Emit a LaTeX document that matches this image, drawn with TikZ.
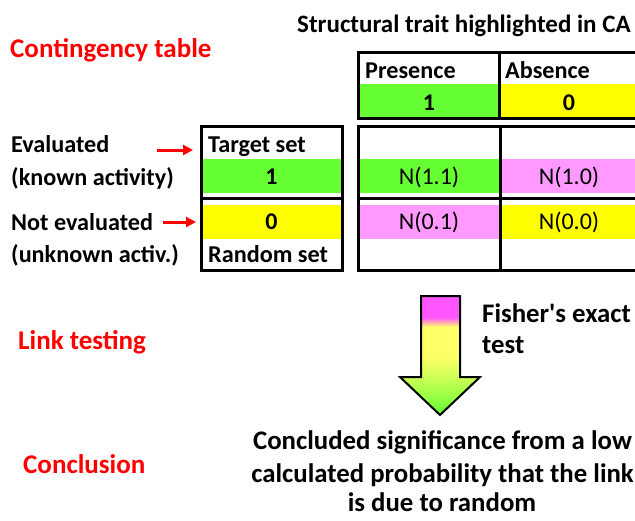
\documentclass[tikz,border=0pt]{standalone}
\usepackage{fontspec}
\setmainfont{Carlito}
\usetikzlibrary{arrows.meta}

\definecolor{cgreen}{RGB}{102,255,51}
\definecolor{cyellow}{RGB}{255,255,0}
\definecolor{cpink}{RGB}{255,153,255}
\definecolor{amag}{RGB}{255,85,255}
\definecolor{ayellow}{RGB}{255,255,102}
\definecolor{alime}{RGB}{205,255,85}
\definecolor{agreen}{RGB}{102,255,51}

% fill of the downward arrow: magenta on top, yellow body, green tip
\pgfdeclareverticalshading{fisherfade}{100bp}{%
  color(0bp)=(agreen); color(25bp)=(agreen); color(41bp)=(alime);
  color(50bp)=(ayellow); color(62bp)=(ayellow); color(66bp)=(amag);
  color(75bp)=(amag); color(100bp)=(amag)}

\begin{document}
\begin{tikzpicture}[x=1pt,y=-1pt,
  txt/.style={inner sep=0pt, anchor=base west, font=\bfseries\fontsize{24.2}{28}\selectfont},
  ctr/.style={inner sep=0pt, anchor=base, font=\bfseries\fontsize{24}{28}\selectfont},
  num/.style={inner sep=0pt, anchor=base, font=\fontsize{24}{28}\selectfont},
  big/.style={inner sep=0pt, font=\bfseries\fontsize{26.8}{30}\selectfont},
  headline/.style={inner sep=0pt, anchor=base west, text=red, font=\bfseries\fontsize{27}{30}\selectfont},
  frame/.style={draw=black, line width=3pt},
  pointer/.style={draw=red, line width=3pt, -{Triangle[length=10pt,width=10pt]}}]
\useasboundingbox (0,0) rectangle (635,520);

% section headings
\node[headline] (hct)  at (10,57)  {Contingency table};
\node[headline] (hlt)  at (18,349) {Link testing};
\node[headline] (hcon) at (23,473) {Conclusion};

% column header
\node[txt, font=\bfseries\fontsize{25}{28}\selectfont] (trait) at (297,32) {Structural trait highlighted in CA};
\fill[cgreen]  (358,84) rectangle (499,118);
\fill[cyellow] (499,84) rectangle (645,118);
\draw[frame] (358,52) rectangle (645,118);
\draw[frame] (499,52) -- (499,118);
\node[txt] (pres) at (365,78) {Presence};
\node[txt] (abs)  at (505,78) {Absence};
\node[ctr] (c1) at (429,110) {1};
\node[ctr] (c0) at (569,110) {0};

% row header
\fill[cgreen]  (201,159) rectangle (342,193);
\fill[cyellow] (201,205) rectangle (342,239);
\draw[frame] (201,126) rectangle (342,270);
\draw[frame] (201,198) -- (342,198);
\node[txt] (tset) at (208,152) {Target set};
\node[ctr] (r1)   at (271.5,184) {1};
\node[ctr] (r0)   at (271.5,229) {0};
\node[txt] (rset) at (208,262) {Random set};

% counts
\fill[cgreen]  (358,159) rectangle (500,193);
\fill[cpink]   (500,159) rectangle (645,193);
\fill[cpink]   (358,205) rectangle (500,239);
\fill[cyellow] (500,205) rectangle (645,239);
\draw[frame] (358,126) rectangle (645,270);
\draw[frame] (500,126) -- (500,270);
\draw[frame] (358,198) -- (645,198);
\node[num] (n11) at (429,184) {N(1.1)};
\node[num] (n10) at (569,184) {N(1.0)};
\node[num] (n01) at (429,229) {N(0.1)};
\node[num] (n00) at (569,229) {N(0.0)};

% row labels with pointers
\node[txt] (ev)  at (11,152) {Evaluated};
\node[txt] (evk) at (11,185) {(known activity)};
\node[txt] (nev) at (11,230) {Not evaluated};
\node[txt] (nevk) at (11,262) {(unknown activ.)};
\coordinate (p1a) at (157,150);
\coordinate (p1b) at (193,150);
\coordinate (p2a) at (163,222);
\coordinate (p2b) at (196,222);
\draw[pointer] (p1a) -- (p1b);
\draw[pointer] (p2a) -- (p2b);

% test arrow
\draw[line width=2pt, shading=fisherfade, line join=miter]
  (421,296) -- (460,296) -- (460,377) -- (480,377) -- (440,415)
  -- (400,377) -- (421,377) -- cycle;
\node[big, anchor=base west] (fish) at (482,322) {Fisher\textquotesingle s exact};
\node[big, anchor=base west] (test) at (482,353) {test};

% conclusion
\node[big, anchor=base] (concl1) at (442.5,449) {Concluded significance from a low};
\node[big, anchor=base] (concl2) at (442.5,482) {calculated probability that the link};
\node[big, anchor=base] (concl3) at (442,511) {is due to random};
\end{tikzpicture}
\end{document}
